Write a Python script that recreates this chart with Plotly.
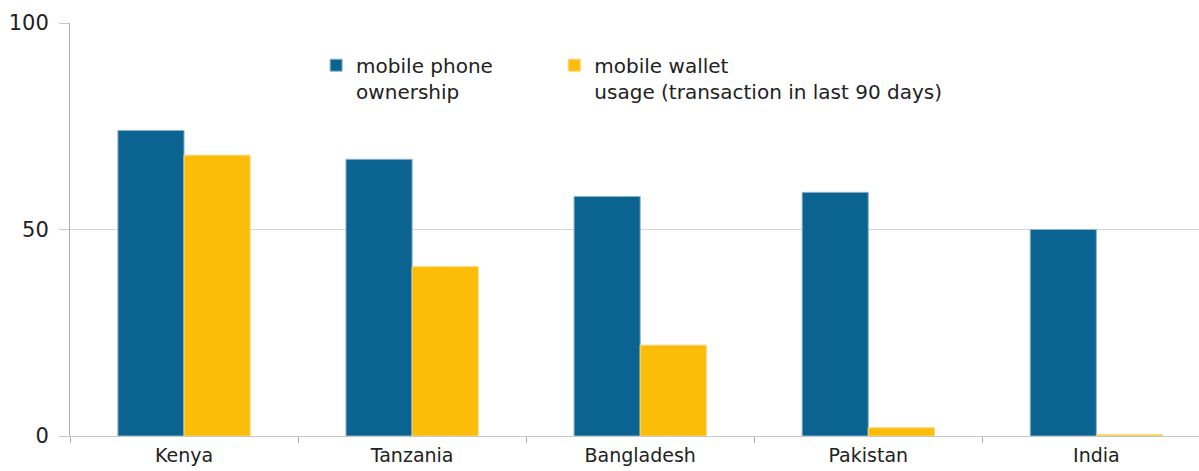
import plotly.graph_objects as go

countries = ["Kenya", "Tanzania", "Bangladesh", "Pakistan", "India"]
phone_ownership = [74, 67, 58, 59, 50]
wallet_usage = [68, 41, 22, 2, 0.3]

fig = go.Figure()
fig.add_trace(go.Bar(
    x=countries, y=phone_ownership, name="mobile phone<br>ownership",
    marker=dict(color="#0a6390", line=dict(color="#8fb3cc", width=1)),
    legend="legend",
))
fig.add_trace(go.Bar(
    x=countries, y=wallet_usage, name="mobile wallet<br>usage (transaction in last 90 days)",
    marker=dict(color="#fbbd0a", line=dict(color="#fcd77a", width=1)),
    legend="legend2",
))

legend_font = dict(family="DejaVu Sans", size=20, color="#222222")
fig.update_layout(
    width=1199, height=471,
    margin=dict(l=70, r=0, t=23, b=35, autoexpand=False),
    paper_bgcolor="white", plot_bgcolor="white",
    barmode="group", bargap=0.42, bargroupgap=0,
    font=dict(family="DejaVu Sans", size=20, color="#222222"),
    showlegend=True,
    legend=dict(
        x=0.218, y=0.945, xanchor="left", yanchor="top",
        valign="top", font=legend_font, itemwidth=30,
        bgcolor="rgba(0,0,0,0)",
    ),
    legend2=dict(
        x=0.429, y=0.945, xanchor="left", yanchor="top",
        valign="top", font=legend_font, itemwidth=30,
        bgcolor="rgba(0,0,0,0)",
    ),
    xaxis=dict(
        range=[-0.5, 4.45], showgrid=False,
        showline=True, linecolor="#c8c8c8", linewidth=1,
        ticks="outside", tickson="boundaries", ticklen=6, tickcolor="#b0b0b0",
        ticklabelstandoff=2, automargin=False,
        tickfont=dict(size=19),
    ),
    yaxis=dict(
        range=[0, 100], tickvals=[0, 50, 100],
        showgrid=True, gridcolor="#d6d6d6", gridwidth=1,
        showline=True, linecolor="#b0b0b0", linewidth=1,
        ticks="outside", ticklen=10, tickcolor="#c8c8c8",
        ticklabelstandoff=6, zeroline=False, automargin=False,
        tickfont=dict(size=21),
    ),
)

fig.write_html("out.html")
